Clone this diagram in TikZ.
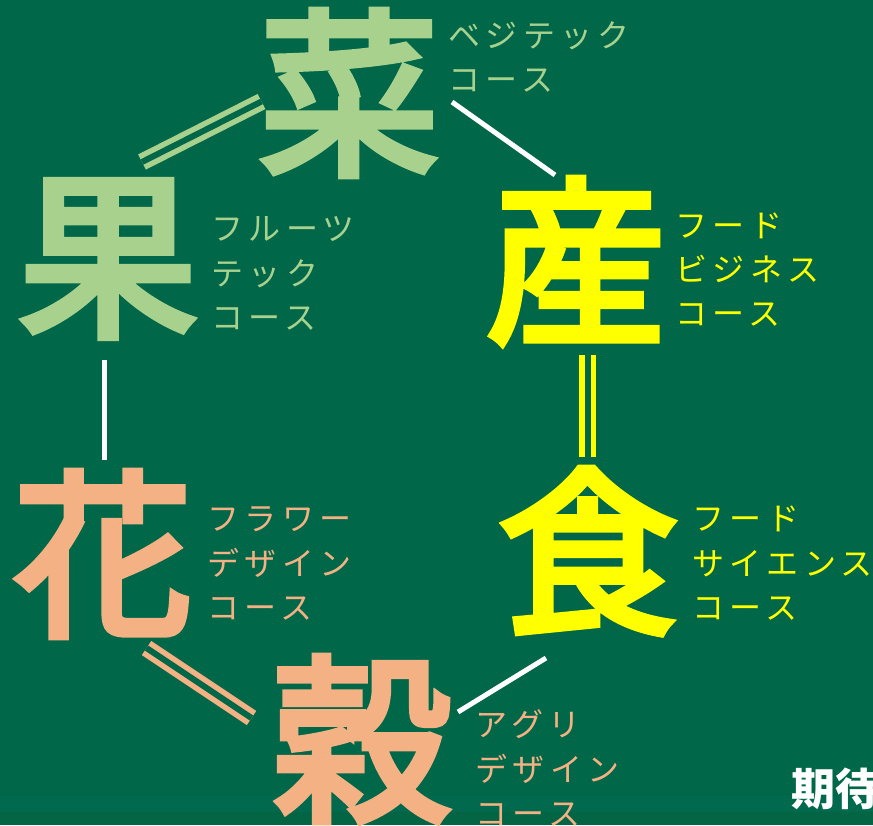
\documentclass[tikz,border=0pt]{standalone}
\usepackage{fontspec}
\newfontfamily\cjk{Noto Sans CJK JP}
\newfontfamily\cjkmid[FakeBold=4]{Noto Sans CJK JP}
\newfontfamily\kana[LetterSpace=17]{Noto Sans CJK JP}
\definecolor{board}{RGB}{0,103,73}
\definecolor{boardband}{RGB}{6,112,88}
\definecolor{boardlow}{RGB}{8,98,60}
\definecolor{vgreen}{RGB}{169,209,142}
\definecolor{peach}{RGB}{244,177,131}
\definecolor{yel}{RGB}{255,255,0}
\tikzset{
  big/.style={inner sep=0pt, anchor=center, font=\cjkmid\fontsize{180}{180}\selectfont},
  kline/.style={inner sep=0pt, anchor=base west, font=\kana\fontsize{32}{45}\selectfont},
  single/.style={line width=5pt, white},
  dbl/.style={line width=5.5pt, double distance=6pt, double=board},
}
\begin{document}
\begin{tikzpicture}[x=1pt,y=-1pt]
\fill[board] (0,0) rectangle (873,825);
\fill[boardband, opacity=0.3] (0,796) rectangle (873,812);
\fill[boardlow, opacity=0.4] (0,812) rectangle (873,825);
\useasboundingbox (0,0) rectangle (873,825);

% big kanji
\node[big, text=vgreen] (sai) at (349,93) {菜};
\node[big, text=vgreen] (ka) at (108,259) {果};
\node[big, text=yel] (san) at (576,261) {産};
\node[big, text=yel] (shoku) at (588,551) {食};
\node[big, text=peach] (hana) at (103,554) {花};
\node[big, text=peach] (koku) at (362,739) {穀};

% captions
\node[kline, text=vgreen] (sai1) at (448,47) {ベジテック};
\node[kline, text=vgreen] (sai2) at (448,91) {コース};
\node[kline, text=vgreen] (ka1) at (211,240) {フルーツ};
\node[kline, text=vgreen] (ka2) at (211,285) {テック};
\node[kline, text=vgreen] (ka3) at (211,329) {コース};
\node[kline, text=yel] (san1) at (675,237) {フード};
\node[kline, text=yel] (san2) at (675,281) {ビジネス};
\node[kline, text=yel] (san3) at (675,325) {コース};
\node[kline, text=yel] (sh1) at (692,530) {フード};
\node[kline, text=yel] (sh2) at (692,575) {サイエンス};
\node[kline, text=yel] (sh3) at (692,619) {コース};
\node[kline, text=peach] (ha1) at (207,530) {フラワー};
\node[kline, text=peach] (ha2) at (207,575) {デザイン};
\node[kline, text=peach] (ha3) at (207,619) {コース};
\node[kline, text=peach] (ko1) at (475,736) {アグリ};
\node[kline, text=peach] (ko2) at (475,781) {デザイン};
\node[kline, text=peach] (ko3) at (475,825) {コース};

\node[inner sep=0pt, anchor=base west, text=white, font=\cjk\bfseries\fontsize{44}{44}\selectfont] (kitai) at (791,805) {期待};

% connector end points
\coordinate (c1a) at (142,162);   \coordinate (c1b) at (261.5,101.5);
\coordinate (c2a) at (452,102);   \coordinate (c2b) at (555,175);
\coordinate (c3a) at (587.5,355); \coordinate (c3b) at (587.5,457);
\coordinate (c4a) at (546,658);   \coordinate (c4b) at (458,712);
\coordinate (c5a) at (146.5,648); \coordinate (c5b) at (251.5,718);
\coordinate (c6a) at (104,360);   \coordinate (c6b) at (104,460);

\draw[dbl, vgreen] (c1a) -- (c1b);
\draw[single] (c2a) -- (c2b);
\draw[dbl, yel] (c3a) -- (c3b);
\draw[single] (c4a) -- (c4b);
\draw[dbl, peach] (c5a) -- (c5b);
\draw[single] (c6a) -- (c6b);
\end{tikzpicture}
\end{document}
